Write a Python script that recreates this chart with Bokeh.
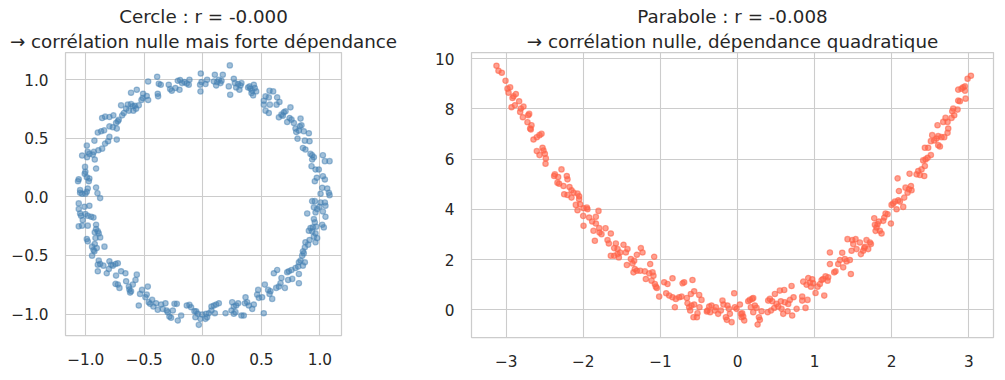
from bokeh.plotting import figure
from bokeh.layouts import row
from bokeh.models import Range1d, Title, FixedTicker, CustomJSTickFormatter
from bokeh.embed import file_html
from bokeh.resources import INLINE

# ---- data ----
circle_x = [
    -0.390, -0.467, -0.376, -0.359, -0.291, -0.214, -0.194, -0.177, -0.157, -0.137, -0.114, -0.120, -0.199, -0.279, -0.265, -0.234,
    -0.564, -0.613, -0.510, -0.479, -0.467, -0.524, -0.513, -0.385, -0.382,
    -0.698, -0.641, -0.613, -0.598, -0.581, -0.570, -0.593, -0.632, -0.655, -0.547, -0.675, -0.689, -0.726, -0.718, -0.764, -0.798, -0.835, -0.860, -0.741, -0.769, -0.798, -0.843, -0.869, -0.897, -0.735,
    -0.798, -0.835, -0.809, -0.860, -0.892, -0.926, -0.932, -0.735, -0.991, -0.983, -1.031, -0.989, -0.969, -0.940, -0.923, -0.912, -1.006, -1.003, -1.009, -0.991,
    -0.969, -0.974, -1.060, -1.066, -0.912, -0.983, -1.048, -1.048, -1.031, -1.003, -0.991, -0.900, -0.877,
    -0.017, -0.023, -0.011, -0.020, 0.023, 0.037, 0.103, 0.114, 0.094, 0.123, 0.137, 0.151, 0.160, 0.171, 0.231, 0.222, 0.234, 0.265, 0.274, 0.285,
    0.302, 0.313, 0.322, 0.330, 0.387, 0.399, 0.407, 0.416, 0.430, 0.436, 0.444, 0.456, 0.422,
    0.570, 0.601, 0.564, 0.536, 0.521, 0.521, 0.536, 0.564, 0.573, 0.635, 0.655, 0.630, 0.650, 0.672, 0.692, 0.707, 0.684, 0.749, 0.741, 0.721,
    0.758, 0.778, 0.792, 0.798, 0.809, 0.821, 0.835, 0.843, 0.829, 0.863, 0.872, 0.906, 0.855, 0.877, 0.912, 0.920, 0.934, 0.949, 0.934, 1.026,
    1.043, 1.083, 0.929, 0.963, 0.991, 0.974, 0.957, 1.026, 1.043, 1.020, 1.063, 1.077, 1.083, 1.006, 0.934, 0.957,
    -1.060, -1.011, -0.969, -1.060, -1.048, -1.040, -1.003, -0.983, -0.954, -0.934,
    -1.026, -1.060, -1.031, -0.983, -0.912, -0.912, -0.923, -0.897, -0.889, -0.877,
    -0.917, -0.991, -0.983, -0.946, -0.923, -0.934, -0.926, -0.906, -0.840, -0.946,
    -0.889, -0.877, -0.897, -0.897, -0.849, -0.798, -0.783, -0.803, -0.821, -0.769,
    -0.746, -0.726, -0.741, -0.698, -0.661, -0.726, -0.746, -0.712, -0.655, -0.632,
    -0.627, -0.613, -0.598, -0.564, -0.575, -0.621, -0.547, -0.536, -0.519, -0.490,
    -0.470, -0.479, -0.462, -0.450, -0.433, -0.399, -0.422, -0.385, -0.356, -0.342,
    -0.319, -0.308, -0.299, -0.285, -0.271, -0.242, -0.222, -0.214, -0.256, -0.185,
    -0.137, -0.114, -0.100, -0.071, -0.057, -0.043, -0.063, -0.034,
    1.006, 1.043, 1.048, 0.949, 0.977, 0.997, 0.892, 1.026, 1.048, 0.963,
    0.949, 0.957, 0.920, 0.940, 0.969, 1.020, 1.034, 0.906, 0.934, 0.963,
    0.949, 0.977, 0.963, 0.912, 0.877, 0.900, 0.872, 0.855, 0.863, 0.849,
    0.835, 0.821, 0.872, 0.855, 0.815, 0.792, 0.758, 0.735, 0.721, 0.729,
    0.764, 0.821, 0.821, 0.635, 0.607, 0.672, 0.664, 0.650, 0.701, 0.627,
    0.578, 0.558, 0.530, 0.570, 0.593, 0.473, 0.464, 0.521, 0.507, 0.479,
    0.436, 0.422, 0.365, 0.359, 0.393, 0.379, 0.302, 0.285, 0.265, 0.251,
    0.245, 0.265, 0.279, 0.330, 0.350, 0.137, 0.114, 0.094, 0.074, 0.103,
    0.074, 0.051, 0.028, 0.037, 0.023, -0.006, -0.020, 0.194,
]
circle_y = [
    1.024, 0.984, 0.965, 0.956, 0.956, 0.990, 0.996, 0.970, 0.979, 0.967, 0.999, 0.956, 0.913, 0.919, 0.905, 0.928,
    0.913, 0.888, 0.879, 0.860, 0.826, 0.826, 0.843, 0.879, 0.857,
    0.780, 0.786, 0.791, 0.772, 0.777, 0.752, 0.735, 0.735, 0.752, 0.780, 0.715, 0.695, 0.644, 0.658, 0.695, 0.681, 0.684, 0.672, 0.630, 0.593, 0.601, 0.567, 0.559, 0.548, 0.582,
    0.511, 0.454, 0.474, 0.411, 0.397, 0.479, 0.383, 0.488, 0.437, 0.383, 0.352, 0.338, 0.366, 0.360, 0.318, 0.241, 0.255, 0.213, 0.196, 0.167,
    0.156, 0.133, 0.150, 0.133, 0.079, 0.071, 0.057, 0.034, 0.026, 0.026, 0.043, 0.031, -0.011,
    1.052, 0.956, 0.979, 0.899, 0.962, 0.999, 1.041, 0.950, 0.984, 0.979, 0.999, 0.970, 0.990, 1.041, 1.121, 0.942, 0.871, 1.007, 0.970, 0.933,
    0.962, 0.913, 0.950, 0.970, 0.933, 0.942, 0.922, 0.885, 0.865, 0.956, 0.928, 0.899, 0.905,
    0.905, 0.899, 0.848, 0.857, 0.820, 0.786, 0.735, 0.715, 0.786, 0.848, 0.809, 0.786, 0.678, 0.701, 0.721, 0.729, 0.692, 0.763, 0.672, 0.638,
    0.658, 0.630, 0.582, 0.553, 0.496, 0.565, 0.667, 0.610, 0.601, 0.559, 0.479, 0.542, 0.417, 0.403, 0.474, 0.366, 0.355, 0.338, 0.318, 0.355,
    0.304, 0.304, 0.261, 0.233, 0.233, 0.162, 0.133, 0.176, 0.148, 0.077, 0.071, 0.034, 0.014, 0.026, -0.037, -0.037,
    -0.056, -0.085, -0.076, -0.105, -0.142, -0.161, -0.147, -0.161, -0.170, -0.176,
    -0.198, -0.252, -0.246, -0.246, -0.238, -0.275, -0.303, -0.295, -0.312, -0.346,
    -0.352, -0.360, -0.380, -0.425, -0.403, -0.454, -0.465, -0.437, -0.425, -0.502,
    -0.544, -0.573, -0.579, -0.635, -0.587, -0.550, -0.579, -0.615, -0.652, -0.587,
    -0.573, -0.567, -0.672, -0.635, -0.652, -0.749, -0.743, -0.777, -0.720, -0.766,
    -0.791, -0.805, -0.749, -0.664, -0.709, -0.817, -0.927, -0.828, -0.794, -0.857,
    -0.766, -0.834, -0.899, -0.913, -0.879, -0.908, -0.936, -0.964, -0.919, -0.956,
    -0.908, -0.970, -0.984, -1.021, -1.032, -0.913, -0.913, -1.055, -0.970, -1.013,
    -0.927, -0.922, -0.942, -0.976, -0.976, -0.998, -1.027, -1.092,
    -0.048, -0.048, -0.076, -0.090, -0.105, -0.085, -0.142, -0.125, -0.170, -0.133,
    -0.190, -0.218, -0.266, -0.261, -0.255, -0.238, -0.261, -0.289, -0.295, -0.312,
    -0.340, -0.352, -0.388, -0.369, -0.388, -0.408, -0.431, -0.465, -0.482, -0.502,
    -0.544, -0.559, -0.559, -0.587, -0.595, -0.607, -0.624, -0.635, -0.644, -0.709,
    -0.700, -0.658, -0.737, -0.624, -0.652, -0.692, -0.737, -0.766, -0.777, -0.777,
    -0.805, -0.794, -0.749, -0.828, -0.871, -0.794, -0.834, -0.993, -0.857, -0.862,
    -0.919, -0.956, -0.857, -0.908, -0.927, -0.899, -0.908, -0.927, -0.936, -0.899,
    -0.970, -0.998, -0.984, -1.013, -1.013, -0.908, -0.919, -0.927, -0.936, -0.993,
    -0.970, -0.993, -0.998, -1.027, -1.041, -1.004, -1.041, -0.993,
]

parab_x = [
    -3.126, -3.100, -3.057, -3.009, -2.983, -2.949, -2.970, -2.905, -2.875, -2.918,
    -2.832, -2.888, -2.931, -2.776, -2.810, -2.819, -2.784, -2.702, -2.715, -2.724,
    -2.672, -2.689, -2.681, -2.646, -2.603, -2.568, -2.542, -2.603, -2.568, -2.529,
    -2.516, -2.499, -2.486, -2.490, -2.369, -2.378, -2.326, -2.283, -2.214, -2.205,
    -2.335, -2.313, -2.257, -2.248, -2.179, -2.153, -2.127, -2.075, -2.054, -2.205,
    -2.153, -2.097, -2.054, -2.041, -2.075, -1.997, -1.954, -1.946, -2.002, -1.997,
    -1.924, -1.885, -1.837, -1.803, -1.837, -1.868, -1.794, -1.790, -1.764, -1.712,
    -1.643, -1.850, -1.686, -1.669, -1.578, -1.600, -1.556, -1.479, -1.522, -1.448,
    -1.427, -1.643, -1.600, -1.539, -1.556, -1.383, -1.340, -1.362, -1.306, -1.254,
    -1.232, -1.435, -1.332, -1.349, -1.306, -1.262, -1.202, -1.146, -1.189, -1.102,
    -1.081, -1.115, -1.090, -1.133, -1.072, -1.059, -1.046, -1.016, -0.951, -0.908,
    -0.843, -0.925, -0.886, -0.843, -0.800, -0.813, -0.757, -0.726, -0.713, -0.692,
    -0.657, -0.584, -0.605, -0.562, -0.497, -0.467, -0.649, -0.627, -0.614, -0.597,
    -0.562, -0.571, -0.527, -0.519, -0.493, -0.389, -0.367, -0.337, -0.398, -0.355,
    -0.281, -0.294, -0.251, -0.216, -0.195, -0.182, -0.130, -0.151, -0.138,
    -0.112, -0.099, -0.077, -0.043, -0.034, -0.013, 0.031, 0.044, 0.061, 0.074,
    0.087, 0.052, 0.139, 0.160, 0.191, 0.204, 0.173, 0.204, 0.225, 0.247,
    0.260, 0.277, 0.290, 0.312, 0.390, 0.398, 0.420, 0.433, 0.450, 0.476,
    0.485, 0.506, 0.528, 0.549, 0.562, 0.571, 0.593, 0.606, 0.614, 0.649,
    0.658, 0.679, 0.701, 0.709, 0.727, 0.766, 0.839, 0.839, 0.852, 0.882,
    0.895, 0.908, 0.917, 0.939, 0.952, 0.969, 0.982, 1.012, 1.038, 1.068,
    1.090, 1.111, 1.125, 1.142, 1.168, 1.176, 1.198, 1.198, 1.254, 1.271,
    1.306, 1.328, 1.358, 1.392, 1.371, 1.414, 1.427, 1.457, 1.470, 1.479,
    1.501, 1.488, 1.531, 1.544, 1.587, 1.600, 1.630, 1.643, 1.652, 1.673,
    1.695, 1.717, 1.730, 1.773, 1.782, 1.803, 1.816, 1.833, 1.846, 1.868,
    1.790, 1.890, 1.903, 1.920, 1.946, 1.989, 1.998, 2.019, 2.041, 2.063,
    2.084, 2.076, 2.093, 2.106, 2.149, 2.162, 2.179, 2.205, 2.223, 2.249,
    2.257, 2.231, 2.322, 2.344, 2.365, 2.387, 2.422, 2.430, 2.439, 2.465,
    2.508, 2.408, 2.430, 2.473, 2.508, 2.525, 2.551, 2.581, 2.603, 2.603,
    2.625, 2.594, 2.646, 2.681, 2.724, 2.733, 2.668, 2.698, 2.724, 2.776,
    2.785, 2.798, 2.811, 2.854, 2.862, 2.884, 2.862, 2.906, 2.927, 2.949,
    2.949, 2.958, 2.984, 3.027,
]
parab_y = [
    9.722, 9.524, 9.444, 9.127, 8.810, 8.862, 8.651, 8.505, 8.598, 8.439,
    8.307, 8.148, 8.069, 8.095, 8.016, 7.884, 7.672, 7.804, 7.751, 7.474,
    7.354, 7.222, 7.183, 6.786, 6.878, 6.958, 7.011, 6.323, 6.164, 6.455,
    6.349, 6.217, 6.032, 5.820, 5.397, 5.331, 5.291, 5.595, 5.331, 5.198,
    5.066, 5.026, 4.934, 4.603, 4.894, 4.762, 4.669, 4.630, 4.524, 4.577,
    4.471, 4.180, 4.405, 4.206, 3.968, 4.048, 4.074, 4.008, 3.743, 3.347,
    3.677, 3.519, 3.704, 3.942, 3.439, 3.148, 3.254, 3.082, 3.016, 3.254,
    3.042, 2.751, 2.778, 2.646, 2.646, 2.460, 2.421, 2.593, 2.288, 2.288,
    2.421, 2.156, 2.156, 2.090, 2.222, 2.024, 1.958, 1.852, 2.196, 2.460,
    2.288, 1.786, 1.627, 1.495, 1.561, 1.561, 1.534, 1.455, 1.230, 1.495,
    2.116, 1.164, 1.362, 1.825, 1.032, 0.926, 0.873, 0.529, 1.098, 1.032,
    1.257, 0.661, 0.569, 0.503, 0.437, 0.106, 0.503, 0.529, 1.058, 1.098,
    0.476, 1.190, 0.635, 0.741, 0.595, 0.397, 0.265, 0.106, -0.026, 0.172,
    0.212, -0.291, -0.291, -0.132, 0.106, -0.026, 0.132, 0.172, -0.066, -0.093,
    0.106, -0.026, -0.159, -0.026, 0.370, 0.212, 0.172, -0.291, -0.397,
    0.040, -0.159, -0.489, 0.661, 0.106, 0.040, 0.212, -0.159, -0.132, -0.265,
    -0.423, -0.291, 0.344, 0.397, 0.437, 0.476, 0.106, -0.093, 0.172, 0.079,
    -0.582, -0.291, -0.397, -0.053, -0.093, 0.370, 0.437, -0.026, 0.344, 0.079,
    0.635, 0.238, 0.132, 0.767, 0.344, 0.040, -0.159, 0.794, 0.304, -0.053,
    0.238, 0.397, 0.952, -0.225, 0.503, 0.040, 0.529, 0.370, 1.124, 0.079,
    1.005, 0.397, 1.270, 1.085, 0.926, 1.217, 1.058, 0.675, 0.926, 1.032,
    1.190, 1.230, 0.569, 1.336, 1.164, 1.296, 1.825, 2.288, 1.495, 1.534,
    1.825, 1.984, 2.275, 2.024, 1.693, 1.931, 2.817, 1.984, 1.429, 2.354,
    2.619, 2.778, 2.817, 2.421, 2.685, 2.222, 2.354, 2.460, 2.513, 2.778,
    2.421, 2.685, 2.619, 3.651, 3.386, 3.280, 3.413, 3.519, 3.148, 3.042,
    3.148, 3.545, 3.677, 3.836, 3.810, 3.439, 4.180, 4.233, 4.312, 4.008,
    4.365, 5.238, 4.735, 4.312, 4.101, 4.471, 4.868, 4.669, 4.802, 4.934,
    4.762, 5.423, 5.397, 5.529, 5.370, 5.595, 5.331, 5.728, 5.992, 6.058,
    6.164, 5.952, 6.455, 6.455, 6.720, 6.958, 6.746, 6.825, 6.918, 6.561,
    6.508, 7.354, 6.878, 6.878, 7.050, 7.222, 7.487, 7.646, 7.487, 7.646,
    7.910, 8.016, 7.751, 7.976, 8.333, 8.307, 8.770, 8.810, 8.862, 8.902,
    8.730, 8.413, 9.206, 9.325,
]

circle_title = ["Cercle : r = -0.000", "\u2192 corrélation nulle mais forte dépendance"]
parab_title = ["Parabole : r = -0.008", "\u2192 corrélation nulle, dépendance quadratique"]
circle_ticks = [-1.0, -0.5, 0.0, 0.5, 1.0]
parab_xticks = [-3, -2, -1, 0, 1, 2, 3]
parab_yticks = [0, 2, 4, 6, 8, 10]

FONT = "DejaVu Sans"
TXT = "#262626"
GRID = "#cccccc"


def fmt(decimals):
    return CustomJSTickFormatter(args=dict(d=decimals), code="""
        const s = Math.abs(tick).toFixed(d);
        return tick < 0 ? "\u2212" + s : s;
    """)


def make_fig(xr, yr, fw, fh, bl, br, bt, bb, titles, xt, yt, xd, yd):
    p = figure(frame_width=fw, frame_height=fh, x_range=Range1d(*xr), y_range=Range1d(*yr),
               output_backend="svg", toolbar_location=None, title=None,
               min_border_left=bl, min_border_right=br, min_border_top=bt, min_border_bottom=bb)
    p.add_layout(Title(text=titles[1], align="center", text_font=FONT, text_font_size="18.3px",
                       text_font_style="normal", text_color=TXT, standoff=1), "above")
    p.add_layout(Title(text=titles[0], align="center", text_font=FONT, text_font_size="18.3px",
                       text_font_style="normal", text_color=TXT, standoff=4), "above")
    p.background_fill_color = "white"
    p.border_fill_color = "white"
    p.outline_line_color = GRID
    p.outline_line_width = 1.25
    p.xaxis.ticker = FixedTicker(ticks=xt)
    p.yaxis.ticker = FixedTicker(ticks=yt)
    p.xaxis.formatter = fmt(xd)
    p.yaxis.formatter = fmt(yd)
    for ax in (p.xaxis[0], p.yaxis[0]):
        ax.axis_line_color = None
        ax.major_tick_line_color = None
        ax.minor_tick_line_color = None
        ax.major_label_text_font = FONT
        ax.major_label_text_font_size = "15.3px"
        ax.major_label_text_color = TXT
        ax.major_label_standoff = 11
    p.xgrid.grid_line_color = GRID
    p.ygrid.grid_line_color = GRID
    p.xgrid.grid_line_width = 1.1
    p.ygrid.grid_line_width = 1.1
    return p


p1 = make_fig((-1.173, 1.185), (-1.183, 1.231), 276, 283, 65, 65, 52, 32,
              circle_title, circle_ticks, circle_ticks, 1, 1)
p1.scatter(circle_x, circle_y, size=5.4, fill_color="steelblue", fill_alpha=0.5,
           line_color="steelblue", line_alpha=0.5, line_width=1.2)

p2 = make_fig((-3.45, 3.32), (-1.10, 10.25), 522, 285, 65, 2, 52, 30,
              parab_title, parab_xticks, parab_yticks, 0, 0)
p2.scatter(parab_x, parab_y, size=5.4, fill_color="tomato", fill_alpha=0.6,
           line_color="tomato", line_alpha=0.6, line_width=1.2)

layout = row(p1, p2)
open("out.html", "w").write(file_html(layout, INLINE))
